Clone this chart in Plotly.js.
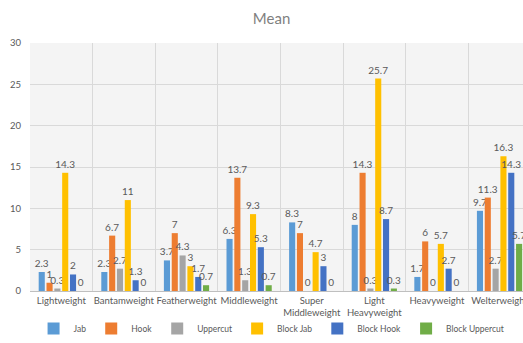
<!DOCTYPE html>
<html>
<head>
<meta charset="utf-8">
<script src="https://cdn.plot.ly/plotly-3.0.1.min.js"></script>
<style>html,body{margin:0;padding:0;overflow:hidden;background:#fff}#chart{width:523px;height:343px}</style>
</head>
<body>
<div id="chart"></div>
<script>
const categories = ["Lightweight","Bantamweight","Featherweight","Middleweight","Super<br>Middleweight","Light<br>Heavyweight","Heavyweight","Welterweight"];
const seriesNames = ["Jab","Hook","Uppercut","Block Jab","Block Hook","Block Uppercut"];
const jab = [2.3, 2.3, 3.7, 6.3, 8.3, 8, 1.7, 9.7];
const hook = [1, 6.7, 7, 13.7, 7, 14.3, 6, 11.3];
const uppercut = [0.3, 2.7, 4.3, 1.3, 0, 0.3, 0, 2.7];
const blockJab = [14.3, 11, 3, 9.3, 4.7, 25.7, 5.7, 16.3];
const blockHook = [2, 1.3, 1.7, 5.3, 3, 8.7, 2.7, 14.3];
const blockUppercut = [0, 0, 0.7, 0.7, 0, 0.3, 0, 5.7];
const colors = ["#5B9BD5","#ED7D31","#A5A5A5","#FFC000","#4472C4","#70AD47"];
const values = [jab, hook, uppercut, blockJab, blockHook, blockUppercut];

const font = "Lato, Noto Sans, Liberation Sans, sans-serif";
const traces = values.map((v, i) => ({
  type: "bar",
  name: seriesNames[i],
  x: categories,
  y: v,
  marker: {color: colors[i]},
  text: v.map(String),
  textposition: "outside",
  constraintext: "none",
  cliponaxis: true,
  textfont: {family: font, size: 10, color: "#595959"}
}));

const layout = {
  width: 523, height: 343,
  margin: {l: 30, r: 0, t: 43, b: 52},
  paper_bgcolor: "#ffffff",
  plot_bgcolor: "#f4f4f4",
  font: {family: font, size: 9.5, color: "#595959"},
  title: {text: "Mean", font: {family: font, size: 15, color: "#7f7f7f"}, x: 0.49, xref: "paper", xanchor: "center", y: 0.96, yref: "container"},
  barmode: "group",
  bargap: 0.25,
  bargroupgap: 0.22,
  showlegend: true,
  legend: {orientation: "h", xref: "paper", x: 0.49, xanchor: "center", yref: "container", y: 0.0, yanchor: "bottom", bgcolor: "rgba(0,0,0,0)", itemwidth: 30, font: {family: font, size: 8.5, color: "#595959"}, traceorder: "normal"},
  xaxis: {
    range: [-0.5, 7.375],
    tickson: "boundaries",
    tickangle: 0,
    ticklabelstandoff: 2,
    showgrid: true, gridcolor: "#d9d9d9",
    ticks: "", showline: false, zeroline: false,
    tickfont: {family: font, size: 9.5, color: "#595959"},
    automargin: false
  },
  yaxis: {
    range: [0, 30], dtick: 5,
    showgrid: true, gridcolor: "#d9d9d9",
    zeroline: true, zerolinecolor: "#bfbfbf",
    ticks: "", ticklabelstandoff: 8,
    tickfont: {family: font, size: 9.5, color: "#595959"},
    automargin: false
  }
};
Plotly.newPlot("chart", traces, layout, {displayModeBar: false, staticPlot: true});
</script>
</body>
</html>
